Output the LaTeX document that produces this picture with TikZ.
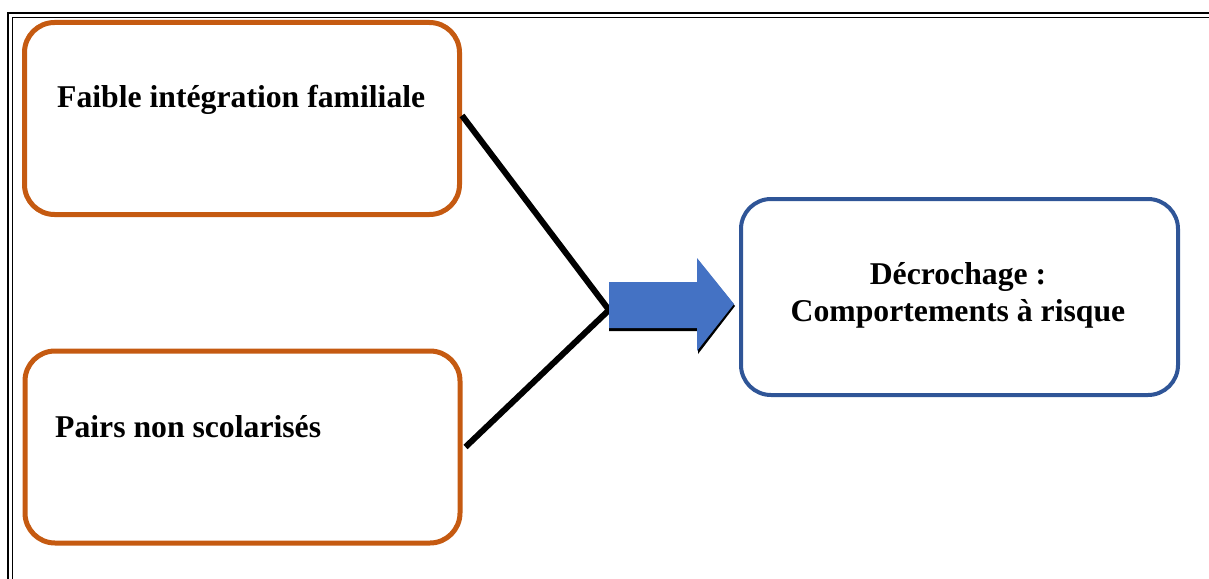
\documentclass[tikz,border=0pt]{standalone}
\usepackage{fontspec}
\setmainfont{Liberation Serif}
\usepackage{tikz}
\definecolor{boxorange}{HTML}{C55A11}
\definecolor{boxblue}{HTML}{2F5597}
\definecolor{arrowblue}{HTML}{4472C4}

\begin{document}
\begin{tikzpicture}[x=1pt, y=-1pt,
    cause_box/.style={rectangle, draw=boxorange, line width=5pt, rounded corners=30pt, minimum width=435pt, minimum height=192pt},
    effect_box/.style={rectangle, draw=boxblue, line width=4pt, rounded corners=30pt, minimum width=437pt, minimum height=196pt},
    box_text/.style={font=\fontsize{31.7}{37}\selectfont\bfseries, inner sep=0pt},
    link/.style={line width=6pt}]

    \useasboundingbox (0,0) rectangle (1209,578);
    \begin{scope}
    \clip (0,0) rectangle (1209,578);
    \draw[line width=2pt] (1220,13) -- (8,13) -- (8,590);
    \draw[line width=1pt] (1220,17.5) -- (12,17.5) -- (12,590);
    \end{scope}

    \node[cause_box] (famille) at (242,118.5) {};
    \node[cause_box] (pairs) at (242.5,447) {};
    \node[effect_box] (decrochage) at (959.5,297) {};
    \coordinate (j) at (609,310);

    \node[box_text, anchor=west] (t1) at (57,100) {Faible intégration familiale};
    \node[box_text, anchor=west] (t2) at (55,427) {Pairs non scolarisés};
    \node[box_text, align=center] (t3) at (958,295) {Décrochage :\\Comportements à risque};

    \draw[link] ([yshift=3pt]famille.east) -- (j);
    \draw[link] ([xshift=3pt]pairs.east) -- (j);

    \fill[black] (609,284) -- (698,284) -- (698,260) -- (735,306) -- (698,354) -- (698,331) -- (609,331) -- cycle;
    \fill[arrowblue] (609,282) -- (697,282) -- (697,258) -- (734,304) -- (697,351) -- (697,328) -- (609,328) -- cycle;
\end{tikzpicture}
\end{document}
